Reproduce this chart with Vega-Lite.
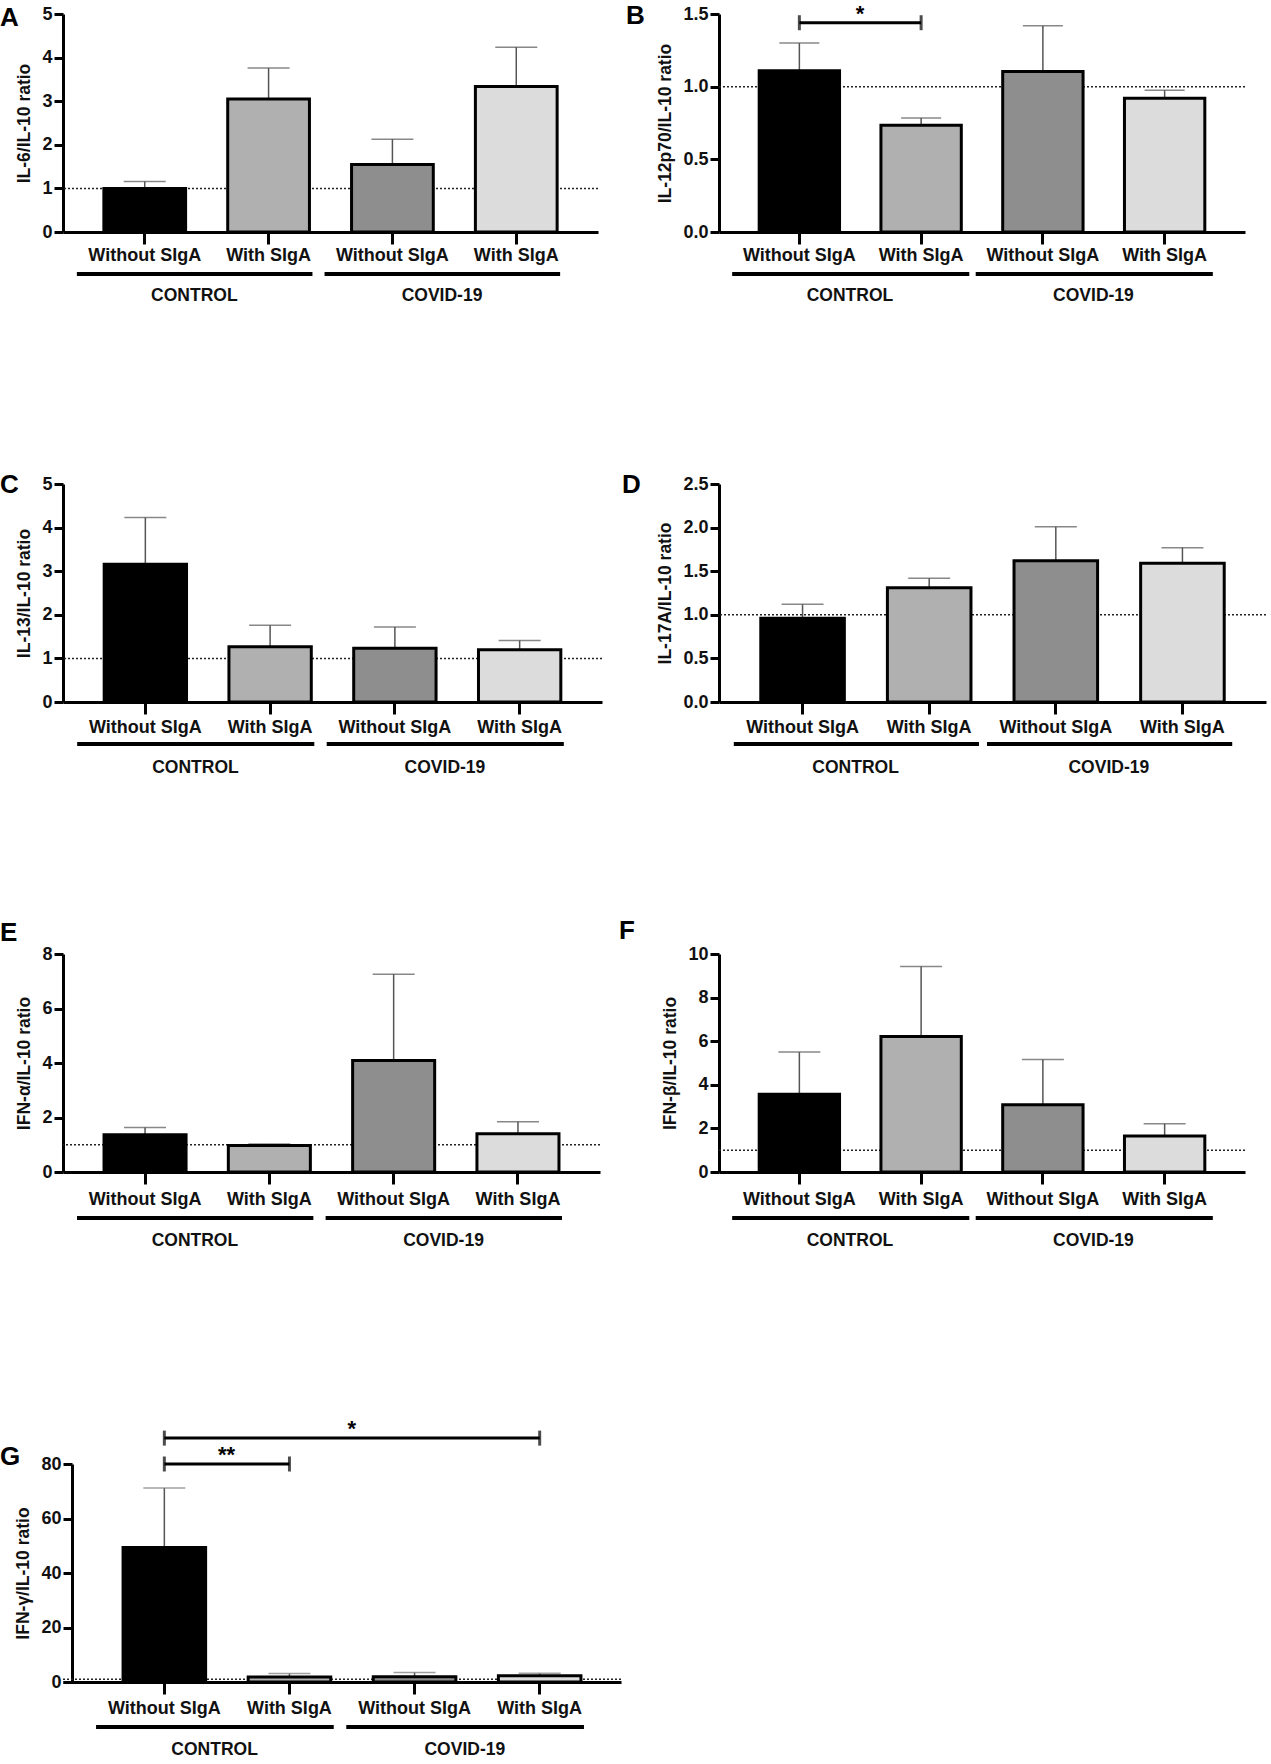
{
  "$schema": "https://vega.github.io/schema/vega-lite/v6.json",
  "usermeta": {"embedOptions": {"actions": false}},
  "background": "white",
  "padding": {"left": 0, "top": 2, "right": 0, "bottom": 0},
  "columns": 2,
  "align": "each",
  "bounds": "flush",
  "spacing": {"row": 252, "column": 98},
  "datasets": {
    "ref": [{"ratio": 1}],
    "bars": [
      {"panel": "A", "key": "CONTROL|Without SIgA", "mean": 1.0, "upper": 1.16},
      {"panel": "A", "key": "CONTROL|With SIgA", "mean": 3.05, "upper": 3.76},
      {"panel": "A", "key": "COVID-19|Without SIgA", "mean": 1.55, "upper": 2.13},
      {"panel": "A", "key": "COVID-19|With SIgA", "mean": 3.34, "upper": 4.24},
      {"panel": "B", "key": "CONTROL|Without SIgA", "mean": 1.11, "upper": 1.3},
      {"panel": "B", "key": "CONTROL|With SIgA", "mean": 0.735, "upper": 0.785},
      {"panel": "B", "key": "COVID-19|Without SIgA", "mean": 1.105, "upper": 1.42},
      {"panel": "B", "key": "COVID-19|With SIgA", "mean": 0.92, "upper": 0.975},
      {"panel": "C", "key": "CONTROL|Without SIgA", "mean": 3.16, "upper": 4.23},
      {"panel": "C", "key": "CONTROL|With SIgA", "mean": 1.27, "upper": 1.76},
      {"panel": "C", "key": "COVID-19|Without SIgA", "mean": 1.23, "upper": 1.72},
      {"panel": "C", "key": "COVID-19|With SIgA", "mean": 1.2, "upper": 1.41},
      {"panel": "D", "key": "CONTROL|Without SIgA", "mean": 0.96, "upper": 1.12},
      {"panel": "D", "key": "CONTROL|With SIgA", "mean": 1.31, "upper": 1.42},
      {"panel": "D", "key": "COVID-19|Without SIgA", "mean": 1.62, "upper": 2.01},
      {"panel": "D", "key": "COVID-19|With SIgA", "mean": 1.59, "upper": 1.77},
      {"panel": "E", "key": "CONTROL|Without SIgA", "mean": 1.37, "upper": 1.63},
      {"panel": "E", "key": "CONTROL|With SIgA", "mean": 0.97, "upper": 1.03},
      {"panel": "E", "key": "COVID-19|Without SIgA", "mean": 4.09, "upper": 7.26},
      {"panel": "E", "key": "COVID-19|With SIgA", "mean": 1.4, "upper": 1.84},
      {"panel": "F", "key": "CONTROL|Without SIgA", "mean": 3.57, "upper": 5.5},
      {"panel": "F", "key": "CONTROL|With SIgA", "mean": 6.21, "upper": 9.43},
      {"panel": "F", "key": "COVID-19|Without SIgA", "mean": 3.08, "upper": 5.16},
      {"panel": "F", "key": "COVID-19|With SIgA", "mean": 1.65, "upper": 2.21},
      {"panel": "G", "key": "CONTROL|Without SIgA", "mean": 49.4, "upper": 71.2},
      {"panel": "G", "key": "CONTROL|With SIgA", "mean": 1.8, "upper": 3.1},
      {"panel": "G", "key": "COVID-19|Without SIgA", "mean": 1.9, "upper": 3.5},
      {"panel": "G", "key": "COVID-19|With SIgA", "mean": 2.3, "upper": 3.2}
    ],
    "groups": [
      {"group": "CONTROL", "start": "CONTROL|Without SIgA", "end": "CONTROL|With SIgA"},
      {"group": "COVID-19", "start": "COVID-19|Without SIgA", "end": "COVID-19|With SIgA"}
    ],
    "sig": [
      {"panel": "B", "key": "CONTROL|Without SIgA", "to": "CONTROL|With SIgA", "at": "CONTROL|Without SIgA", "level": 1.44, "label": "*"},
      {"panel": "G", "key": "CONTROL|Without SIgA", "to": "CONTROL|With SIgA", "at": "CONTROL|Without SIgA", "level": 80, "label": "**"},
      {"panel": "G", "key": "CONTROL|Without SIgA", "to": "COVID-19|With SIgA", "at": "CONTROL|With SIgA", "level": 89.5, "label": "*"}
    ]
  },
  "concat": [
    {
      "width": 535, "height": 218,
      "title": {"text": "A", "dx": -63, "dy": 30},
      "layer": [
        {"data": {"name": "ref"}, "mark": {"type": "rule", "strokeDash": [2, 2], "strokeWidth": 1.5, "color": "#222"},
         "encoding": {"y": {"field": "ratio", "type": "quantitative", "scale": {"domain": [0, 5], "nice": false}}}},
        {"data": {"name": "bars"}, "transform": [{"filter": "datum.panel === 'A'"}],
         "mark": {"type": "rule", "color": "#555", "strokeWidth": 1.5},
         "encoding": {
           "x": {"field": "key", "type": "nominal", "scale": {"domain": ["CONTROL|Without SIgA", "CONTROL|With SIgA", "COVID-19|Without SIgA", "COVID-19|With SIgA"], "paddingInner": 0.34, "paddingOuter": 0.33}},
           "y": {"field": "mean", "type": "quantitative", "scale": {"domain": [0, 5], "nice": false}},
           "y2": {"field": "upper"}}},
        {"data": {"name": "bars"}, "transform": [{"filter": "datum.panel === 'A'"}],
         "mark": {"type": "tick", "color": "#555", "thickness": 1.5, "size": 42},
         "encoding": {
           "x": {"field": "key", "type": "nominal", "scale": {"domain": ["CONTROL|Without SIgA", "CONTROL|With SIgA", "COVID-19|Without SIgA", "COVID-19|With SIgA"], "paddingInner": 0.34, "paddingOuter": 0.33}},
           "y": {"field": "upper", "type": "quantitative", "scale": {"domain": [0, 5], "nice": false}}}},
        {"data": {"name": "bars"}, "transform": [{"filter": "datum.panel === 'A'"}],
         "mark": {"type": "bar", "stroke": "#000", "strokeWidth": 3},
         "encoding": {
           "x": {"field": "key", "type": "nominal", "scale": {"domain": ["CONTROL|Without SIgA", "CONTROL|With SIgA", "COVID-19|Without SIgA", "COVID-19|With SIgA"], "paddingInner": 0.34, "paddingOuter": 0.33},
                 "axis": {"title": null, "labelExpr": "split(datum.label, '|')[1]", "labelPadding": 2.5}},
           "y": {"field": "mean", "type": "quantitative", "scale": {"domain": [0, 5], "nice": false},
                 "axis": {"title": "IL-6/IL-10 ratio", "values": [0, 1, 2, 3, 4, 5]}},
           "color": {"field": "key", "type": "nominal", "legend": null,
                     "scale": {"domain": ["CONTROL|Without SIgA", "CONTROL|With SIgA", "COVID-19|Without SIgA", "COVID-19|With SIgA"], "range": ["#000000", "#b0b0b0", "#8e8e8e", "#dcdcdc"]}}}},
        {"data": {"name": "groups"}, "mark": {"type": "rule", "strokeWidth": 4, "color": "#000", "yOffset": 42, "xOffset": -27, "x2Offset": 3},
         "encoding": {
           "x": {"field": "start", "type": "nominal", "bandPosition": 0, "scale": {"domain": ["CONTROL|Without SIgA", "CONTROL|With SIgA", "COVID-19|Without SIgA", "COVID-19|With SIgA"], "paddingInner": 0.34, "paddingOuter": 0.33}},
           "x2": {"field": "end", "bandPosition": 1},
           "y": {"datum": 0, "type": "quantitative", "scale": {"domain": [0, 5], "nice": false}}}},
        {"data": {"name": "groups"}, "mark": {"type": "text", "dy": 64, "dx": -12, "fontSize": 17.5, "fontWeight": "bold", "baseline": "middle", "color": "#111"},
         "encoding": {
           "x": {"field": "start", "type": "nominal", "bandPosition": 1.254, "scale": {"domain": ["CONTROL|Without SIgA", "CONTROL|With SIgA", "COVID-19|Without SIgA", "COVID-19|With SIgA"], "paddingInner": 0.34, "paddingOuter": 0.33}},
           "y": {"datum": 0, "type": "quantitative", "scale": {"domain": [0, 5], "nice": false}},
           "text": {"field": "group"}}}
      ]
    },
    {
      "width": 526, "height": 218,
      "title": {"text": "B", "dx": -93, "dy": 30},
      "layer": [
        {"data": {"name": "ref"}, "mark": {"type": "rule", "strokeDash": [2, 2], "strokeWidth": 1.5, "color": "#222"},
         "encoding": {"y": {"field": "ratio", "type": "quantitative", "scale": {"domain": [0, 1.5], "nice": false}}}},
        {"data": {"name": "bars"}, "transform": [{"filter": "datum.panel === 'B'"}],
         "mark": {"type": "rule", "color": "#555", "strokeWidth": 1.5},
         "encoding": {
           "x": {"field": "key", "type": "nominal", "scale": {"domain": ["CONTROL|Without SIgA", "CONTROL|With SIgA", "COVID-19|Without SIgA", "COVID-19|With SIgA"], "paddingInner": 0.34, "paddingOuter": 0.33}},
           "y": {"field": "mean", "type": "quantitative", "scale": {"domain": [0, 1.5], "nice": false}},
           "y2": {"field": "upper"}}},
        {"data": {"name": "bars"}, "transform": [{"filter": "datum.panel === 'B'"}],
         "mark": {"type": "tick", "color": "#555", "thickness": 1.5, "size": 40},
         "encoding": {
           "x": {"field": "key", "type": "nominal", "scale": {"domain": ["CONTROL|Without SIgA", "CONTROL|With SIgA", "COVID-19|Without SIgA", "COVID-19|With SIgA"], "paddingInner": 0.34, "paddingOuter": 0.33}},
           "y": {"field": "upper", "type": "quantitative", "scale": {"domain": [0, 1.5], "nice": false}}}},
        {"data": {"name": "bars"}, "transform": [{"filter": "datum.panel === 'B'"}],
         "mark": {"type": "bar", "stroke": "#000", "strokeWidth": 3},
         "encoding": {
           "x": {"field": "key", "type": "nominal", "scale": {"domain": ["CONTROL|Without SIgA", "CONTROL|With SIgA", "COVID-19|Without SIgA", "COVID-19|With SIgA"], "paddingInner": 0.34, "paddingOuter": 0.33},
                 "axis": {"title": null, "labelExpr": "split(datum.label, '|')[1]", "labelPadding": 2.5}},
           "y": {"field": "mean", "type": "quantitative", "scale": {"domain": [0, 1.5], "nice": false},
                 "axis": {"title": "IL-12p70/IL-10 ratio", "values": [0, 0.5, 1, 1.5], "format": ".1f"}},
           "color": {"field": "key", "type": "nominal", "legend": null,
                     "scale": {"domain": ["CONTROL|Without SIgA", "CONTROL|With SIgA", "COVID-19|Without SIgA", "COVID-19|With SIgA"], "range": ["#000000", "#b0b0b0", "#8e8e8e", "#dcdcdc"]}}}},
        {"data": {"name": "groups"}, "mark": {"type": "rule", "strokeWidth": 4, "color": "#000", "yOffset": 42, "xOffset": -27, "x2Offset": 8},
         "encoding": {
           "x": {"field": "start", "type": "nominal", "bandPosition": 0, "scale": {"domain": ["CONTROL|Without SIgA", "CONTROL|With SIgA", "COVID-19|Without SIgA", "COVID-19|With SIgA"], "paddingInner": 0.34, "paddingOuter": 0.33}},
           "x2": {"field": "end", "bandPosition": 1},
           "y": {"datum": 0, "type": "quantitative", "scale": {"domain": [0, 1.5], "nice": false}}}},
        {"data": {"name": "groups"}, "mark": {"type": "text", "dy": 64, "dx": -10, "fontSize": 17.5, "fontWeight": "bold", "baseline": "middle", "color": "#111"},
         "encoding": {
           "x": {"field": "start", "type": "nominal", "bandPosition": 1.254, "scale": {"domain": ["CONTROL|Without SIgA", "CONTROL|With SIgA", "COVID-19|Without SIgA", "COVID-19|With SIgA"], "paddingInner": 0.34, "paddingOuter": 0.33}},
           "y": {"datum": 0, "type": "quantitative", "scale": {"domain": [0, 1.5], "nice": false}},
           "text": {"field": "group"}}},
        {"data": {"name": "sig"}, "transform": [{"filter": "datum.panel === 'B'"}],
         "mark": {"type": "rule", "strokeWidth": 3, "color": "#000"},
         "encoding": {
           "x": {"field": "key", "type": "nominal", "bandPosition": 0.5, "scale": {"domain": ["CONTROL|Without SIgA", "CONTROL|With SIgA", "COVID-19|Without SIgA", "COVID-19|With SIgA"], "paddingInner": 0.34, "paddingOuter": 0.33}},
           "x2": {"field": "to", "bandPosition": 0.5},
           "y": {"field": "level", "type": "quantitative", "scale": {"domain": [0, 1.5], "nice": false}}}},
        {"data": {"name": "sig"}, "transform": [{"filter": "datum.panel === 'B'"}],
         "mark": {"type": "tick", "orient": "vertical", "size": 15, "thickness": 3, "color": "#000"},
         "encoding": {
           "x": {"field": "key", "type": "nominal", "scale": {"domain": ["CONTROL|Without SIgA", "CONTROL|With SIgA", "COVID-19|Without SIgA", "COVID-19|With SIgA"], "paddingInner": 0.34, "paddingOuter": 0.33}},
           "y": {"field": "level", "type": "quantitative", "scale": {"domain": [0, 1.5], "nice": false}}}},
        {"data": {"name": "sig"}, "transform": [{"filter": "datum.panel === 'B'"}],
         "mark": {"type": "tick", "orient": "vertical", "size": 15, "thickness": 3, "color": "#000"},
         "encoding": {
           "x": {"field": "to", "type": "nominal", "scale": {"domain": ["CONTROL|Without SIgA", "CONTROL|With SIgA", "COVID-19|Without SIgA", "COVID-19|With SIgA"], "paddingInner": 0.34, "paddingOuter": 0.33}},
           "y": {"field": "level", "type": "quantitative", "scale": {"domain": [0, 1.5], "nice": false}}}},
        {"data": {"name": "sig"}, "transform": [{"filter": "datum.panel === 'B'"}],
         "mark": {"type": "text", "fontSize": 22, "fontWeight": "bold", "baseline": "alphabetic", "dy": -2, "color": "#000"},
         "encoding": {
           "x": {"field": "at", "type": "nominal", "bandPosition": 1.254, "scale": {"domain": ["CONTROL|Without SIgA", "CONTROL|With SIgA", "COVID-19|Without SIgA", "COVID-19|With SIgA"], "paddingInner": 0.34, "paddingOuter": 0.33}},
           "y": {"field": "level", "type": "quantitative", "scale": {"domain": [0, 1.5], "nice": false}},
           "text": {"field": "label"}}}
      ]
    },
    {
      "width": 539, "height": 218,
      "title": {"text": "C", "dx": -63, "dy": 27},
      "layer": [
        {"data": {"name": "ref"}, "mark": {"type": "rule", "strokeDash": [2, 2], "strokeWidth": 1.5, "color": "#222"},
         "encoding": {"y": {"field": "ratio", "type": "quantitative", "scale": {"domain": [0, 5], "nice": false}}}},
        {"data": {"name": "bars"}, "transform": [{"filter": "datum.panel === 'C'"}],
         "mark": {"type": "rule", "color": "#555", "strokeWidth": 1.5},
         "encoding": {
           "x": {"field": "key", "type": "nominal", "scale": {"domain": ["CONTROL|Without SIgA", "CONTROL|With SIgA", "COVID-19|Without SIgA", "COVID-19|With SIgA"], "paddingInner": 0.34, "paddingOuter": 0.33}},
           "y": {"field": "mean", "type": "quantitative", "scale": {"domain": [0, 5], "nice": false}},
           "y2": {"field": "upper"}}},
        {"data": {"name": "bars"}, "transform": [{"filter": "datum.panel === 'C'"}],
         "mark": {"type": "tick", "color": "#555", "thickness": 1.5, "size": 42},
         "encoding": {
           "x": {"field": "key", "type": "nominal", "scale": {"domain": ["CONTROL|Without SIgA", "CONTROL|With SIgA", "COVID-19|Without SIgA", "COVID-19|With SIgA"], "paddingInner": 0.34, "paddingOuter": 0.33}},
           "y": {"field": "upper", "type": "quantitative", "scale": {"domain": [0, 5], "nice": false}}}},
        {"data": {"name": "bars"}, "transform": [{"filter": "datum.panel === 'C'"}],
         "mark": {"type": "bar", "stroke": "#000", "strokeWidth": 3},
         "encoding": {
           "x": {"field": "key", "type": "nominal", "scale": {"domain": ["CONTROL|Without SIgA", "CONTROL|With SIgA", "COVID-19|Without SIgA", "COVID-19|With SIgA"], "paddingInner": 0.34, "paddingOuter": 0.33},
                 "axis": {"title": null, "labelExpr": "split(datum.label, '|')[1]", "labelPadding": 4.5}},
           "y": {"field": "mean", "type": "quantitative", "scale": {"domain": [0, 5], "nice": false},
                 "axis": {"title": "IL-13/IL-10 ratio", "values": [0, 1, 2, 3, 4, 5]}},
           "color": {"field": "key", "type": "nominal", "legend": null,
                     "scale": {"domain": ["CONTROL|Without SIgA", "CONTROL|With SIgA", "COVID-19|Without SIgA", "COVID-19|With SIgA"], "range": ["#000000", "#b0b0b0", "#8e8e8e", "#dcdcdc"]}}}},
        {"data": {"name": "groups"}, "mark": {"type": "rule", "strokeWidth": 4, "color": "#000", "yOffset": 42, "xOffset": -27, "x2Offset": 3},
         "encoding": {
           "x": {"field": "start", "type": "nominal", "bandPosition": 0, "scale": {"domain": ["CONTROL|Without SIgA", "CONTROL|With SIgA", "COVID-19|Without SIgA", "COVID-19|With SIgA"], "paddingInner": 0.34, "paddingOuter": 0.33}},
           "x2": {"field": "end", "bandPosition": 1},
           "y": {"datum": 0, "type": "quantitative", "scale": {"domain": [0, 5], "nice": false}}}},
        {"data": {"name": "groups"}, "mark": {"type": "text", "dy": 66, "dx": -12, "fontSize": 17.5, "fontWeight": "bold", "baseline": "middle", "color": "#111"},
         "encoding": {
           "x": {"field": "start", "type": "nominal", "bandPosition": 1.254, "scale": {"domain": ["CONTROL|Without SIgA", "CONTROL|With SIgA", "COVID-19|Without SIgA", "COVID-19|With SIgA"], "paddingInner": 0.34, "paddingOuter": 0.33}},
           "y": {"datum": 0, "type": "quantitative", "scale": {"domain": [0, 5], "nice": false}},
           "text": {"field": "group"}}}
      ]
    },
    {
      "width": 547, "height": 218,
      "title": {"text": "D", "dx": -97, "dy": 27},
      "layer": [
        {"data": {"name": "ref"}, "mark": {"type": "rule", "strokeDash": [2, 2], "strokeWidth": 1.5, "color": "#222"},
         "encoding": {"y": {"field": "ratio", "type": "quantitative", "scale": {"domain": [0, 2.5], "nice": false}}}},
        {"data": {"name": "bars"}, "transform": [{"filter": "datum.panel === 'D'"}],
         "mark": {"type": "rule", "color": "#555", "strokeWidth": 1.5},
         "encoding": {
           "x": {"field": "key", "type": "nominal", "scale": {"domain": ["CONTROL|Without SIgA", "CONTROL|With SIgA", "COVID-19|Without SIgA", "COVID-19|With SIgA"], "paddingInner": 0.34, "paddingOuter": 0.33}},
           "y": {"field": "mean", "type": "quantitative", "scale": {"domain": [0, 2.5], "nice": false}},
           "y2": {"field": "upper"}}},
        {"data": {"name": "bars"}, "transform": [{"filter": "datum.panel === 'D'"}],
         "mark": {"type": "tick", "color": "#555", "thickness": 1.5, "size": 42},
         "encoding": {
           "x": {"field": "key", "type": "nominal", "scale": {"domain": ["CONTROL|Without SIgA", "CONTROL|With SIgA", "COVID-19|Without SIgA", "COVID-19|With SIgA"], "paddingInner": 0.34, "paddingOuter": 0.33}},
           "y": {"field": "upper", "type": "quantitative", "scale": {"domain": [0, 2.5], "nice": false}}}},
        {"data": {"name": "bars"}, "transform": [{"filter": "datum.panel === 'D'"}],
         "mark": {"type": "bar", "stroke": "#000", "strokeWidth": 3},
         "encoding": {
           "x": {"field": "key", "type": "nominal", "scale": {"domain": ["CONTROL|Without SIgA", "CONTROL|With SIgA", "COVID-19|Without SIgA", "COVID-19|With SIgA"], "paddingInner": 0.34, "paddingOuter": 0.33},
                 "axis": {"title": null, "labelExpr": "split(datum.label, '|')[1]", "labelPadding": 4.5}},
           "y": {"field": "mean", "type": "quantitative", "scale": {"domain": [0, 2.5], "nice": false},
                 "axis": {"title": "IL-17A/IL-10 ratio", "values": [0, 0.5, 1, 1.5, 2, 2.5], "format": ".1f"}},
           "color": {"field": "key", "type": "nominal", "legend": null,
                     "scale": {"domain": ["CONTROL|Without SIgA", "CONTROL|With SIgA", "COVID-19|Without SIgA", "COVID-19|With SIgA"], "range": ["#000000", "#b0b0b0", "#8e8e8e", "#dcdcdc"]}}}},
        {"data": {"name": "groups"}, "mark": {"type": "rule", "strokeWidth": 4, "color": "#000", "yOffset": 42, "xOffset": -27, "x2Offset": 8},
         "encoding": {
           "x": {"field": "start", "type": "nominal", "bandPosition": 0, "scale": {"domain": ["CONTROL|Without SIgA", "CONTROL|With SIgA", "COVID-19|Without SIgA", "COVID-19|With SIgA"], "paddingInner": 0.34, "paddingOuter": 0.33}},
           "x2": {"field": "end", "bandPosition": 1},
           "y": {"datum": 0, "type": "quantitative", "scale": {"domain": [0, 2.5], "nice": false}}}},
        {"data": {"name": "groups"}, "mark": {"type": "text", "dy": 66, "dx": -10, "fontSize": 17.5, "fontWeight": "bold", "baseline": "middle", "color": "#111"},
         "encoding": {
           "x": {"field": "start", "type": "nominal", "bandPosition": 1.254, "scale": {"domain": ["CONTROL|Without SIgA", "CONTROL|With SIgA", "COVID-19|Without SIgA", "COVID-19|With SIgA"], "paddingInner": 0.34, "paddingOuter": 0.33}},
           "y": {"datum": 0, "type": "quantitative", "scale": {"domain": [0, 2.5], "nice": false}},
           "text": {"field": "group"}}}
      ]
    },
    {
      "width": 537, "height": 218,
      "title": {"text": "E", "dx": -63, "dy": 5},
      "layer": [
        {"data": {"name": "ref"}, "mark": {"type": "rule", "strokeDash": [2, 2], "strokeWidth": 1.5, "color": "#222"},
         "encoding": {"y": {"field": "ratio", "type": "quantitative", "scale": {"domain": [0, 8], "nice": false}}}},
        {"data": {"name": "bars"}, "transform": [{"filter": "datum.panel === 'E'"}],
         "mark": {"type": "rule", "color": "#555", "strokeWidth": 1.5},
         "encoding": {
           "x": {"field": "key", "type": "nominal", "scale": {"domain": ["CONTROL|Without SIgA", "CONTROL|With SIgA", "COVID-19|Without SIgA", "COVID-19|With SIgA"], "paddingInner": 0.34, "paddingOuter": 0.33}},
           "y": {"field": "mean", "type": "quantitative", "scale": {"domain": [0, 8], "nice": false}},
           "y2": {"field": "upper"}}},
        {"data": {"name": "bars"}, "transform": [{"filter": "datum.panel === 'E'"}],
         "mark": {"type": "tick", "color": "#555", "thickness": 1.5, "size": 42},
         "encoding": {
           "x": {"field": "key", "type": "nominal", "scale": {"domain": ["CONTROL|Without SIgA", "CONTROL|With SIgA", "COVID-19|Without SIgA", "COVID-19|With SIgA"], "paddingInner": 0.34, "paddingOuter": 0.33}},
           "y": {"field": "upper", "type": "quantitative", "scale": {"domain": [0, 8], "nice": false}}}},
        {"data": {"name": "bars"}, "transform": [{"filter": "datum.panel === 'E'"}],
         "mark": {"type": "bar", "stroke": "#000", "strokeWidth": 3},
         "encoding": {
           "x": {"field": "key", "type": "nominal", "scale": {"domain": ["CONTROL|Without SIgA", "CONTROL|With SIgA", "COVID-19|Without SIgA", "COVID-19|With SIgA"], "paddingInner": 0.34, "paddingOuter": 0.33},
                 "axis": {"title": null, "labelExpr": "split(datum.label, '|')[1]", "labelPadding": 6.5}},
           "y": {"field": "mean", "type": "quantitative", "scale": {"domain": [0, 8], "nice": false},
                 "axis": {"title": "IFN-α/IL-10 ratio", "values": [0, 2, 4, 6, 8]}},
           "color": {"field": "key", "type": "nominal", "legend": null,
                     "scale": {"domain": ["CONTROL|Without SIgA", "CONTROL|With SIgA", "COVID-19|Without SIgA", "COVID-19|With SIgA"], "range": ["#000000", "#b0b0b0", "#8e8e8e", "#dcdcdc"]}}}},
        {"data": {"name": "groups"}, "mark": {"type": "rule", "strokeWidth": 4, "color": "#000", "yOffset": 46, "xOffset": -27, "x2Offset": 3},
         "encoding": {
           "x": {"field": "start", "type": "nominal", "bandPosition": 0, "scale": {"domain": ["CONTROL|Without SIgA", "CONTROL|With SIgA", "COVID-19|Without SIgA", "COVID-19|With SIgA"], "paddingInner": 0.34, "paddingOuter": 0.33}},
           "x2": {"field": "end", "bandPosition": 1},
           "y": {"datum": 0, "type": "quantitative", "scale": {"domain": [0, 8], "nice": false}}}},
        {"data": {"name": "groups"}, "mark": {"type": "text", "dy": 69, "dx": -12, "fontSize": 17.5, "fontWeight": "bold", "baseline": "middle", "color": "#111"},
         "encoding": {
           "x": {"field": "start", "type": "nominal", "bandPosition": 1.254, "scale": {"domain": ["CONTROL|Without SIgA", "CONTROL|With SIgA", "COVID-19|Without SIgA", "COVID-19|With SIgA"], "paddingInner": 0.34, "paddingOuter": 0.33}},
           "y": {"datum": 0, "type": "quantitative", "scale": {"domain": [0, 8], "nice": false}},
           "text": {"field": "group"}}}
      ]
    },
    {
      "width": 526, "height": 218,
      "title": {"text": "F", "dx": -100, "dy": 3},
      "layer": [
        {"data": {"name": "ref"}, "mark": {"type": "rule", "strokeDash": [2, 2], "strokeWidth": 1.5, "color": "#222"},
         "encoding": {"y": {"field": "ratio", "type": "quantitative", "scale": {"domain": [0, 10], "nice": false}}}},
        {"data": {"name": "bars"}, "transform": [{"filter": "datum.panel === 'F'"}],
         "mark": {"type": "rule", "color": "#555", "strokeWidth": 1.5},
         "encoding": {
           "x": {"field": "key", "type": "nominal", "scale": {"domain": ["CONTROL|Without SIgA", "CONTROL|With SIgA", "COVID-19|Without SIgA", "COVID-19|With SIgA"], "paddingInner": 0.34, "paddingOuter": 0.33}},
           "y": {"field": "mean", "type": "quantitative", "scale": {"domain": [0, 10], "nice": false}},
           "y2": {"field": "upper"}}},
        {"data": {"name": "bars"}, "transform": [{"filter": "datum.panel === 'F'"}],
         "mark": {"type": "tick", "color": "#555", "thickness": 1.5, "size": 42},
         "encoding": {
           "x": {"field": "key", "type": "nominal", "scale": {"domain": ["CONTROL|Without SIgA", "CONTROL|With SIgA", "COVID-19|Without SIgA", "COVID-19|With SIgA"], "paddingInner": 0.34, "paddingOuter": 0.33}},
           "y": {"field": "upper", "type": "quantitative", "scale": {"domain": [0, 10], "nice": false}}}},
        {"data": {"name": "bars"}, "transform": [{"filter": "datum.panel === 'F'"}],
         "mark": {"type": "bar", "stroke": "#000", "strokeWidth": 3},
         "encoding": {
           "x": {"field": "key", "type": "nominal", "scale": {"domain": ["CONTROL|Without SIgA", "CONTROL|With SIgA", "COVID-19|Without SIgA", "COVID-19|With SIgA"], "paddingInner": 0.34, "paddingOuter": 0.33},
                 "axis": {"title": null, "labelExpr": "split(datum.label, '|')[1]", "labelPadding": 6.5}},
           "y": {"field": "mean", "type": "quantitative", "scale": {"domain": [0, 10], "nice": false},
                 "axis": {"title": "IFN-β/IL-10 ratio", "values": [0, 2, 4, 6, 8, 10]}},
           "color": {"field": "key", "type": "nominal", "legend": null,
                     "scale": {"domain": ["CONTROL|Without SIgA", "CONTROL|With SIgA", "COVID-19|Without SIgA", "COVID-19|With SIgA"], "range": ["#000000", "#b0b0b0", "#8e8e8e", "#dcdcdc"]}}}},
        {"data": {"name": "groups"}, "mark": {"type": "rule", "strokeWidth": 4, "color": "#000", "yOffset": 46, "xOffset": -27, "x2Offset": 8},
         "encoding": {
           "x": {"field": "start", "type": "nominal", "bandPosition": 0, "scale": {"domain": ["CONTROL|Without SIgA", "CONTROL|With SIgA", "COVID-19|Without SIgA", "COVID-19|With SIgA"], "paddingInner": 0.34, "paddingOuter": 0.33}},
           "x2": {"field": "end", "bandPosition": 1},
           "y": {"datum": 0, "type": "quantitative", "scale": {"domain": [0, 10], "nice": false}}}},
        {"data": {"name": "groups"}, "mark": {"type": "text", "dy": 69, "dx": -10, "fontSize": 17.5, "fontWeight": "bold", "baseline": "middle", "color": "#111"},
         "encoding": {
           "x": {"field": "start", "type": "nominal", "bandPosition": 1.254, "scale": {"domain": ["CONTROL|Without SIgA", "CONTROL|With SIgA", "COVID-19|Without SIgA", "COVID-19|With SIgA"], "paddingInner": 0.34, "paddingOuter": 0.33}},
           "y": {"datum": 0, "type": "quantitative", "scale": {"domain": [0, 10], "nice": false}},
           "text": {"field": "group"}}}
      ]
    },
    {
      "width": 558, "height": 258,
      "title": {"text": "G", "dx": -63, "dy": 56},
      "layer": [
        {"data": {"name": "ref"}, "mark": {"type": "rule", "strokeDash": [2, 2], "strokeWidth": 1.5, "color": "#222"},
         "encoding": {"y": {"field": "ratio", "type": "quantitative", "scale": {"domain": [0, 80], "nice": false, "range": [258, 40]}}}},
        {"data": {"name": "bars"}, "transform": [{"filter": "datum.panel === 'G'"}],
         "mark": {"type": "rule", "color": "#555", "strokeWidth": 1.5},
         "encoding": {
           "x": {"field": "key", "type": "nominal", "scale": {"domain": ["CONTROL|Without SIgA", "CONTROL|With SIgA", "COVID-19|Without SIgA", "COVID-19|With SIgA"], "paddingInner": 0.34, "paddingOuter": 0.4, "align": 0.6}},
           "y": {"field": "mean", "type": "quantitative", "scale": {"domain": [0, 80], "nice": false, "range": [258, 40]}},
           "y2": {"field": "upper"}}},
        {"data": {"name": "bars"}, "transform": [{"filter": "datum.panel === 'G'"}],
         "mark": {"type": "tick", "color": "#777", "thickness": 1.5, "size": 42},
         "encoding": {
           "x": {"field": "key", "type": "nominal", "scale": {"domain": ["CONTROL|Without SIgA", "CONTROL|With SIgA", "COVID-19|Without SIgA", "COVID-19|With SIgA"], "paddingInner": 0.34, "paddingOuter": 0.4, "align": 0.6}},
           "y": {"field": "upper", "type": "quantitative", "scale": {"domain": [0, 80], "nice": false, "range": [258, 40]}}}},
        {"data": {"name": "bars"}, "transform": [{"filter": "datum.panel === 'G'"}],
         "mark": {"type": "bar", "stroke": "#000", "strokeWidth": 3},
         "encoding": {
           "x": {"field": "key", "type": "nominal", "scale": {"domain": ["CONTROL|Without SIgA", "CONTROL|With SIgA", "COVID-19|Without SIgA", "COVID-19|With SIgA"], "paddingInner": 0.34, "paddingOuter": 0.4, "align": 0.6},
                 "axis": {"title": null, "labelExpr": "split(datum.label, '|')[1]", "labelPadding": 5.5}},
           "y": {"field": "mean", "type": "quantitative", "scale": {"domain": [0, 80], "nice": false, "range": [258, 40]},
                 "axis": {"title": "IFN-γ/IL-10 ratio", "values": [0, 20, 40, 60, 80], "offset": -9}},
           "color": {"field": "key", "type": "nominal", "legend": null,
                     "scale": {"domain": ["CONTROL|Without SIgA", "CONTROL|With SIgA", "COVID-19|Without SIgA", "COVID-19|With SIgA"], "range": ["#000000", "#b0b0b0", "#8e8e8e", "#dcdcdc"]}}}},
        {"data": {"name": "groups"}, "mark": {"type": "rule", "strokeWidth": 4, "color": "#000", "yOffset": 45, "xOffset": -27, "x2Offset": 3},
         "encoding": {
           "x": {"field": "start", "type": "nominal", "bandPosition": 0, "scale": {"domain": ["CONTROL|Without SIgA", "CONTROL|With SIgA", "COVID-19|Without SIgA", "COVID-19|With SIgA"], "paddingInner": 0.34, "paddingOuter": 0.4, "align": 0.6}},
           "x2": {"field": "end", "bandPosition": 1},
           "y": {"datum": 0, "type": "quantitative", "scale": {"domain": [0, 80], "nice": false, "range": [258, 40]}}}},
        {"data": {"name": "groups"}, "mark": {"type": "text", "dy": 68, "dx": -12, "fontSize": 17.5, "fontWeight": "bold", "baseline": "middle", "color": "#111"},
         "encoding": {
           "x": {"field": "start", "type": "nominal", "bandPosition": 1.254, "scale": {"domain": ["CONTROL|Without SIgA", "CONTROL|With SIgA", "COVID-19|Without SIgA", "COVID-19|With SIgA"], "paddingInner": 0.34, "paddingOuter": 0.4, "align": 0.6}},
           "y": {"datum": 0, "type": "quantitative", "scale": {"domain": [0, 80], "nice": false, "range": [258, 40]}},
           "text": {"field": "group"}}},
        {"data": {"name": "sig"}, "transform": [{"filter": "datum.panel === 'G'"}],
         "mark": {"type": "rule", "strokeWidth": 3, "color": "#000"},
         "encoding": {
           "x": {"field": "key", "type": "nominal", "bandPosition": 0.5, "scale": {"domain": ["CONTROL|Without SIgA", "CONTROL|With SIgA", "COVID-19|Without SIgA", "COVID-19|With SIgA"], "paddingInner": 0.34, "paddingOuter": 0.4, "align": 0.6}},
           "x2": {"field": "to", "bandPosition": 0.5},
           "y": {"field": "level", "type": "quantitative", "scale": {"domain": [0, 80], "nice": false, "range": [258, 40]}}}},
        {"data": {"name": "sig"}, "transform": [{"filter": "datum.panel === 'G'"}],
         "mark": {"type": "tick", "orient": "vertical", "size": 15, "thickness": 3, "color": "#000"},
         "encoding": {
           "x": {"field": "key", "type": "nominal", "scale": {"domain": ["CONTROL|Without SIgA", "CONTROL|With SIgA", "COVID-19|Without SIgA", "COVID-19|With SIgA"], "paddingInner": 0.34, "paddingOuter": 0.4, "align": 0.6}},
           "y": {"field": "level", "type": "quantitative", "scale": {"domain": [0, 80], "nice": false, "range": [258, 40]}}}},
        {"data": {"name": "sig"}, "transform": [{"filter": "datum.panel === 'G'"}],
         "mark": {"type": "tick", "orient": "vertical", "size": 15, "thickness": 3, "color": "#000"},
         "encoding": {
           "x": {"field": "to", "type": "nominal", "scale": {"domain": ["CONTROL|Without SIgA", "CONTROL|With SIgA", "COVID-19|Without SIgA", "COVID-19|With SIgA"], "paddingInner": 0.34, "paddingOuter": 0.4, "align": 0.6}},
           "y": {"field": "level", "type": "quantitative", "scale": {"domain": [0, 80], "nice": false, "range": [258, 40]}}}},
        {"data": {"name": "sig"}, "transform": [{"filter": "datum.panel === 'G'"}],
         "mark": {"type": "text", "fontSize": 22, "fontWeight": "bold", "baseline": "alphabetic", "dy": -2, "color": "#000"},
         "encoding": {
           "x": {"field": "at", "type": "nominal", "bandPosition": 1.254, "scale": {"domain": ["CONTROL|Without SIgA", "CONTROL|With SIgA", "COVID-19|Without SIgA", "COVID-19|With SIgA"], "paddingInner": 0.34, "paddingOuter": 0.4, "align": 0.6}},
           "y": {"field": "level", "type": "quantitative", "scale": {"domain": [0, 80], "nice": false, "range": [258, 40]}},
           "text": {"field": "label"}}}
      ]
    }
  ],
  "config": {
    "font": "Liberation Sans",
    "view": {"stroke": null},
    "axis": {
      "domainColor": "#000", "domainWidth": 3, "tickColor": "#000", "tickWidth": 3,
      "labelFont": "Liberation Sans", "labelFontWeight": "bold", "labelFontSize": 18, "labelColor": "#111",
      "titleFont": "Liberation Sans", "titleFontWeight": "bold", "titleFontSize": 17.5, "titleColor": "#111",
      "grid": false
    },
    "axisX": {"tickSize": 12, "labelAngle": 0, "labelLimit": 200},
    "axisY": {"tickSize": 9, "labelPadding": 2, "titlePadding": 8},
    "title": {"font": "Liberation Sans", "fontSize": 26, "fontWeight": "bold", "anchor": "start", "frame": "group", "offset": 0, "baseline": "middle", "color": "#000"}
  }
}
